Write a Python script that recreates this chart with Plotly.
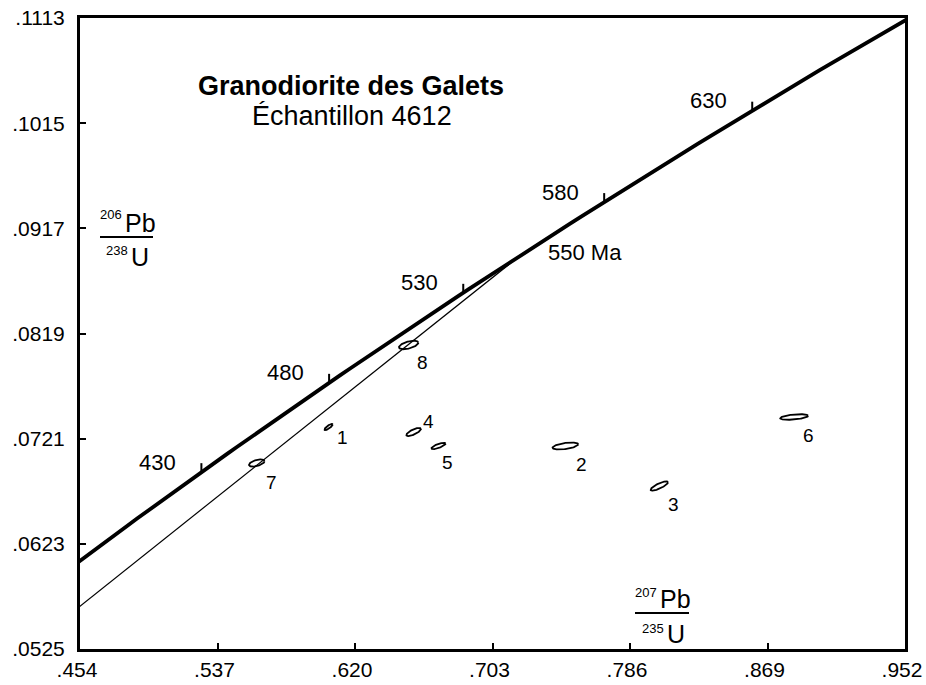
import numpy as np
import plotly.graph_objects as go

# ---------------- data ----------------
# U decay constants (1/yr), used for the concordia reference curve
LAMBDA_238 = 1.55125e-10
LAMBDA_235 = 9.8485e-10

x_tick_values = [0.454, 0.537, 0.620, 0.703, 0.786, 0.869, 0.952]
x_tick_labels = [".454", ".537", ".620", ".703", ".786", ".869", ".952"]
y_tick_values = [0.0525, 0.0623, 0.0721, 0.0819, 0.0917, 0.1015, 0.1113]
y_tick_labels = [".0525", ".0623", ".0721", ".0819", ".0917", ".1015", ".1113"]

concordia_ages_ma = list(range(360, 700, 4))
age_ticks_ma = [430, 480, 530, 580, 630]
upper_intercept_ma = 550
lower_intercept_ma = 20

spot_labels = ["1", "2", "3", "4", "5", "6", "7", "8"]
pb207_u235 = [0.6041, 0.7470, 0.8037, 0.6554, 0.6704, 0.8851, 0.5607, 0.6524]
pb206_u238 = [0.07319, 0.07142, 0.06769, 0.07272, 0.07142, 0.07412, 0.06983, 0.08083]
err_207_235 = [0.00253, 0.00777, 0.00523, 0.00442, 0.00427, 0.00841, 0.00468, 0.00585]
err_206_238 = [0.000291, 0.000324, 0.000430, 0.000379, 0.000296, 0.000258, 0.000332, 0.000397]
err_rho = [0.82, 0.49, 0.80, 0.74, 0.75, 0.43, 0.50, 0.53]

title_line1 = "Granodiorite des Galets"
title_line2 = "Échantillon 4612"

# label offsets in pixels (style)
label_dx = [14, 16, 14, 15, 9, 14, 15, 14]
label_dy = [-11, -19, -19, 11, -17, -19, -19, -18]

FONT = "Liberation Sans, Arial, sans-serif"
W, H = 926, 685
ML, MR, MT, MB = 80, 21, 18, 36


def concordia(age_ma):
    t = np.asarray(age_ma, dtype=float) * 1e6
    return np.expm1(LAMBDA_235 * t), np.expm1(LAMBDA_238 * t)


def px(xp, yp):
    """pixel position -> paper coordinates"""
    return (xp - ML) / (W - ML - MR), (H - MB - yp) / (H - MT - MB)


fig = go.Figure()

# concordia curve
cx, cy = concordia(concordia_ages_ma)
fig.add_trace(go.Scatter(x=cx, y=cy, mode="lines",
                         line=dict(color="black", width=3.8),
                         hoverinfo="skip", showlegend=False))

# discordia line
dx, dy = concordia([lower_intercept_ma, upper_intercept_ma])
fig.add_trace(go.Scatter(x=dx, y=dy, mode="lines",
                         line=dict(color="black", width=1.2),
                         hoverinfo="skip", showlegend=False))

# error ellipses
theta = np.linspace(0, 2 * np.pi, 120)
annotations = []
for i, lab in enumerate(spot_labels):
    x0, y0 = pb207_u235[i], pb206_u238[i]
    ex, ey, r = err_207_235[i], err_206_238[i], err_rho[i]
    ex_pts = x0 + ex * np.cos(theta)
    ey_pts = y0 + ey * (r * np.cos(theta) + np.sqrt(1 - r * r) * np.sin(theta))
    fig.add_trace(go.Scatter(x=ex_pts, y=ey_pts, mode="lines",
                             line=dict(color="black", width=1.8),
                             hoverinfo="skip", showlegend=False))
    annotations.append(dict(x=x0, y=y0, xref="x", yref="y", text=lab,
                            xanchor="center", yanchor="middle",
                            showarrow=False, xshift=label_dx[i], yshift=label_dy[i],
                            font=dict(family=FONT, size=19, color="black")))

# age ticks on concordia
shapes = []
tx, ty = concordia(age_ticks_ma)
for age, xa, ya in zip(age_ticks_ma, tx, ty):
    shapes.append(dict(type="line", xref="x", yref="y", x0=xa, x1=xa,
                       ysizemode="pixel", yanchor=ya, y0=0, y1=9,
                       line=dict(color="black", width=2)))
    annotations.append(dict(x=xa, y=ya, xref="x", yref="y", text=str(age),
                            xanchor="center", yanchor="middle",
                            showarrow=False, xshift=-44, yshift=10,
                            font=dict(family=FONT, size=22, color="black")))

ux, uy = concordia([upper_intercept_ma])
annotations.append(dict(x=ux[0], y=uy[0], xref="x", yref="y",
                        text=f"{upper_intercept_ma} Ma", showarrow=False,
                        xanchor="left", yanchor="middle", xshift=27, yshift=4,
                        font=dict(family=FONT, size=22, color="black")))


def add_text(text, xp, yp, size, xanchor="center", bold=False):
    x, y = px(xp, yp)
    annotations.append(dict(x=x, y=y, xref="paper", yref="paper",
                            text=f"<b>{text}</b>" if bold else text,
                            showarrow=False, xanchor=xanchor, yanchor="middle",
                            font=dict(family=FONT, size=size, color="black")))


# title
add_text(title_line1, 351, 86, 27, bold=True)
add_text(title_line2, 352, 116, 27)

# y-axis fraction label  206Pb / 238U
add_text("206", 124, 214, 13, xanchor="right")
add_text("Pb", 123, 223, 25, xanchor="left")
add_text("238", 130, 250, 13, xanchor="right")
add_text("U", 129, 257, 25, xanchor="left")
lx0, ly = px(100, 237)
lx1, _ = px(153, 237)
shapes.append(dict(type="line", xref="paper", yref="paper", x0=lx0, x1=lx1,
                   y0=ly, y1=ly, line=dict(color="black", width=2)))

# x-axis fraction label  207Pb / 235U
add_text("207", 659, 592, 13, xanchor="right")
add_text("Pb", 658, 599, 25, xanchor="left")
add_text("235", 666, 628, 13, xanchor="right")
add_text("U", 665, 634, 25, xanchor="left")
lx0, ly = px(635, 613)
lx1, _ = px(689, 613)
shapes.append(dict(type="line", xref="paper", yref="paper", x0=lx0, x1=lx1,
                   y0=ly, y1=ly, line=dict(color="black", width=2)))

axis_common = dict(showgrid=False, zeroline=False, showline=True, linewidth=3,
                   linecolor="black", mirror=True, ticks="inside", ticklen=6,
                   tickwidth=2, tickcolor="black", automargin=False,
                   tickfont=dict(family=FONT, size=21, color="black"))

fig.update_layout(
    width=W, height=H,
    margin=dict(l=ML, r=MR, t=MT, b=MB, pad=0, autoexpand=False),
    paper_bgcolor="white", plot_bgcolor="white",
    xaxis=dict(range=[0.454, 0.952], tickmode="array", tickvals=x_tick_values,
               ticktext=x_tick_labels, ticklabelshift=-3, **axis_common),
    yaxis=dict(range=[0.0525, 0.1113], tickmode="array", tickvals=y_tick_values,
               ticktext=y_tick_labels, ticklabelstandoff=8, **axis_common),
    annotations=annotations, shapes=shapes, showlegend=False,
)

fig.write_html("out.html")
